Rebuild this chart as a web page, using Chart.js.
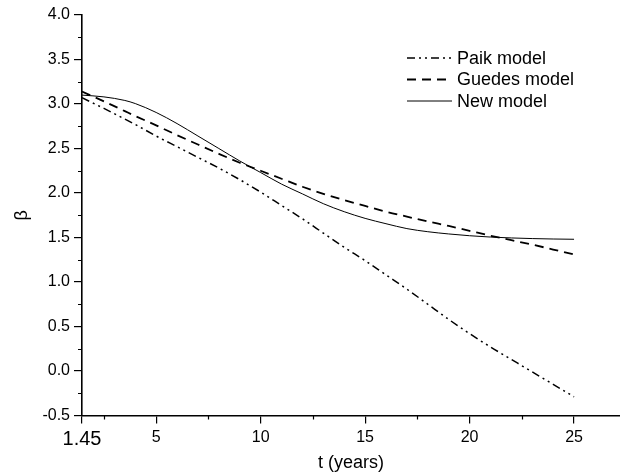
<!DOCTYPE html>
<html lang="en">
<head>
<meta charset="UTF-8">
<title>Beta x t</title>
<script src="https://cdn.jsdelivr.net/npm/chart.js"></script>
<style>
  html, body { margin: 0; padding: 0; background: #fff; }
  canvas { display: block; }
</style>
</head>
<body>
<canvas id="grafico" width="620" height="474"></canvas>
<script>
  // values
  const anos = [1.45, 2.5, 3.5, 4, 5, 6, 7, 8, 9, 10, 11, 12, 13, 14, 15, 16, 17, 18, 19, 20, 21, 22, 23, 24, 25];
  const paik = [3.07, 2.95, 2.83, 2.77, 2.64, 2.52, 2.40, 2.28, 2.15, 2.01, 1.86, 1.71, 1.55, 1.39, 1.24, 1.08, 0.92, 0.75, 0.58, 0.42, 0.27, 0.13, -0.01, -0.15, -0.29];
  const guedes = [3.14, 3.03, 2.92, 2.865, 2.76, 2.65, 2.545, 2.44, 2.34, 2.25, 2.16, 2.07, 1.99, 1.92, 1.855, 1.79, 1.735, 1.68, 1.63, 1.575, 1.52, 1.47, 1.42, 1.365, 1.31];
  const novo = [3.10, 3.08, 3.04, 3.005, 2.905, 2.78, 2.64, 2.50, 2.36, 2.23, 2.10, 1.99, 1.88, 1.79, 1.715, 1.655, 1.60, 1.565, 1.54, 1.52, 1.505, 1.495, 1.488, 1.483, 1.48];

  const xTicks = [1.45, 5, 10, 15, 20, 25];
  const xMinor = [2.5, 7.5, 12.5, 17.5, 22.5];
  const yMinor = [-0.25, 0.25, 0.75, 1.25, 1.75, 2.25, 2.75, 3.25, 3.75];

  Chart.defaults.font.family = "Arial, 'Liberation Sans', sans-serif";
  Chart.defaults.color = '#000';

  const pontos = serie => anos.map((t, i) => ({ x: t, y: serie[i] }));

  // minor ticks + legend inside the plot
  const extras = {
    id: 'extras',
    afterDraw(chart) {
      const ctx = chart.ctx;
      const sx = chart.scales.x, sy = chart.scales.y;
      ctx.save();
      ctx.strokeStyle = '#000';
      ctx.lineWidth = 1.2;
      ctx.beginPath();
      xMinor.forEach(v => {
        const px = Math.round(sx.getPixelForValue(v)) + 0.5;
        ctx.moveTo(px, sx.top); ctx.lineTo(px, sx.top + 4);
      });
      yMinor.forEach(v => {
        const py = Math.round(sy.getPixelForValue(v)) + 0.5;
        ctx.moveTo(sy.right - 4, py); ctx.lineTo(sy.right, py);
      });
      ctx.stroke();

      ctx.font = "18px Arial, 'Liberation Sans', sans-serif";
      ctx.fillStyle = '#000';
      ctx.textBaseline = 'middle';
      chart.data.datasets.forEach((ds, i) => {
        const yy = 58 + i * 21.5;
        ctx.lineWidth = ds.borderWidth;
        ctx.setLineDash(ds.borderDash || []);
        ctx.beginPath();
        ctx.moveTo(407, yy); ctx.lineTo(452, yy);
        ctx.stroke();
        ctx.setLineDash([]);
        ctx.fillText(ds.label, 457, yy + 1);
      });
      ctx.restore();
    }
  };

  const ctx = document.getElementById('grafico').getContext('2d');
  const chart = new Chart(ctx, {
    type: 'line',
    data: {
      datasets: [
        {
          label: 'Paik model',
          data: pontos(paik),
          borderColor: '#000',
          borderWidth: 1.5,
          borderDash: [8, 4, 2, 4, 2, 4]
        },
        {
          label: 'Guedes model',
          data: pontos(guedes),
          borderColor: '#000',
          borderWidth: 1.8,
          borderDash: [9, 6]
        },
        {
          label: 'New model',
          data: pontos(novo),
          borderColor: '#000',
          borderWidth: 1
        }
      ]
    },
    options: {
      responsive: false,
      animation: false,
      devicePixelRatio: 1,
      layout: { padding: { top: 15, right: 0, left: 0, bottom: 0 } },
      elements: {
        point: { radius: 0 },
        line: { cubicInterpolationMode: 'monotone', fill: false }
      },
      plugins: {
        legend: { display: false },
        tooltip: { enabled: false }
      },
      scales: {
        x: {
          type: 'linear',
          min: 1.45,
          max: 27.2,
          afterBuildTicks: s => { s.ticks = xTicks.map(v => ({ value: v })); },
          afterFit: s => { s.height = 58.5; s.paddingLeft = 0; s.paddingRight = 0; },
          ticks: {
            padding: 4,
            maxRotation: 0,
            autoSkip: false,
            callback: v => String(v),
            font: c => ({ size: c.tick && c.tick.value === 1.45 ? 20 : 16 })
          },
          grid: { drawOnChartArea: false, drawTicks: true, tickLength: 8, color: '#000', lineWidth: 1.2 },
          border: { display: true, color: '#000', width: 1.6 },
          title: { display: true, text: 't (years)', font: { size: 18 }, padding: { top: 0, bottom: 0 } }
        },
        y: {
          min: -0.5,
          max: 4.0,
          afterFit: s => { s.width = 82; },
          ticks: {
            stepSize: 0.5,
            padding: 4,
            font: { size: 16 },
            callback: v => v.toFixed(1)
          },
          grid: { drawOnChartArea: false, drawTicks: true, tickLength: 8, color: '#000', lineWidth: 1.2 },
          border: { display: true, color: '#000', width: 1.6 },
          title: { display: true, text: 'β', font: { size: 18 }, padding: { top: 11, bottom: 0 } }
        }
      }
    },
    plugins: [extras]
  });
</script>
</body>
</html>
